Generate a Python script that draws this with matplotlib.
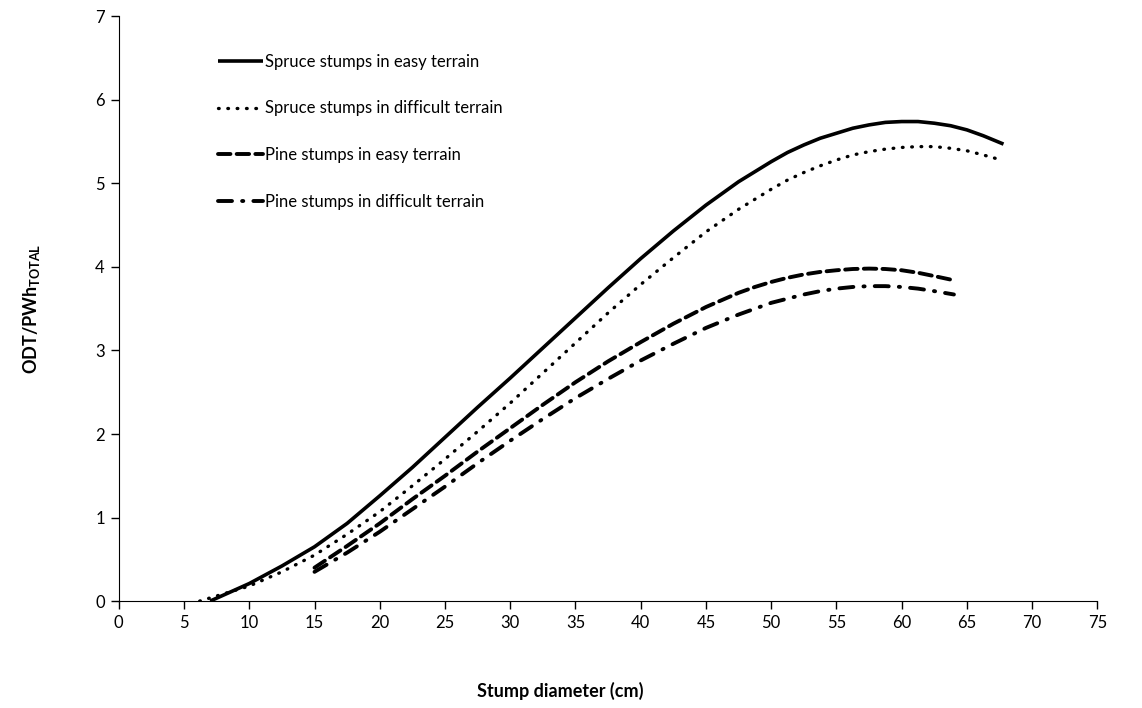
import numpy as np
import matplotlib.pyplot as plt

plt.rcParams['font.family'] = ['Lato', 'DejaVu Sans']
plt.rcParams['mathtext.fontset'] = 'custom'
plt.rcParams['mathtext.rm'] = 'Lato'
plt.rcParams['mathtext.bf'] = 'Lato:bold'

# stump diameter (cm) vs ODT/PWh_TOTAL
spruce_easy_x = [7, 10, 12.5, 15, 17.5, 20, 22.5, 25, 27.5, 30, 32.5, 35, 37.5, 40, 42.5,
                 45, 47.5, 50, 51.25, 52.5, 53.75, 55, 56.25, 57.5, 58.75, 60, 61.25,
                 62.5, 63.75, 65, 66.25, 67.8]
spruce_easy_y = [0, 0.21, 0.42, 0.65, 0.93, 1.26, 1.6, 1.96, 2.32, 2.67, 3.03, 3.39, 3.75,
                 4.1, 4.43, 4.74, 5.02, 5.26, 5.37, 5.46, 5.54, 5.6, 5.66, 5.7, 5.73, 5.74,
                 5.74, 5.72, 5.69, 5.64, 5.57, 5.47]

spruce_diff_x = [6.2, 10, 12.5, 15, 17.5, 20, 22.5, 25, 27.5, 30, 32.5, 35, 37.5, 40, 42.5,
                 45, 47.5, 50, 51.25, 52.5, 53.75, 55, 56.25, 57.5, 58.75, 60, 61.25,
                 62.5, 63.75, 65, 66.25, 67.4]
spruce_diff_y = [0, 0.18, 0.35, 0.55, 0.8, 1.07, 1.38, 1.7, 2.03, 2.37, 2.73, 3.09, 3.45,
                 3.79, 4.11, 4.42, 4.69, 4.93, 5.04, 5.13, 5.21, 5.28, 5.34, 5.38, 5.41,
                 5.43, 5.44, 5.44, 5.42, 5.39, 5.34, 5.29]

pine_easy_x = [15, 17.5, 20, 22.5, 25, 27.5, 30, 32.5, 35, 37.5, 40, 42.5, 45, 47.5, 48.75,
               50, 51.25, 52.5, 53.75, 55, 56.25, 57.5, 58.75, 60, 61.25, 62.5, 64]
pine_easy_y = [0.4, 0.66, 0.93, 1.22, 1.5, 1.79, 2.07, 2.35, 2.62, 2.87, 3.1, 3.32, 3.52,
               3.69, 3.76, 3.82, 3.87, 3.91, 3.94, 3.96, 3.975, 3.98, 3.975, 3.96, 3.93,
               3.89, 3.84]

pine_diff_x = [15, 17.5, 20, 22.5, 25, 27.5, 30, 32.5, 35, 37.5, 40, 42.5, 45, 47.5, 48.75,
               50, 51.25, 52.5, 53.75, 55, 56.25, 57.5, 58.75, 60, 61.25, 62.5, 64]
pine_diff_y = [0.35, 0.58, 0.83, 1.1, 1.37, 1.65, 1.92, 2.18, 2.43, 2.66, 2.88, 3.08, 3.27,
               3.43, 3.5, 3.57, 3.62, 3.67, 3.71, 3.74, 3.76, 3.77, 3.77, 3.76, 3.74,
               3.71, 3.67]

labels = ["Spruce stumps in easy terrain", "Spruce stumps in difficult terrain",
          "Pine stumps in easy terrain", "Pine stumps in difficult terrain"]

fig = plt.figure(figsize=(11.42, 7.08), dpi=100)
ax = fig.add_axes([0.104, 0.151, 0.857, 0.826])

ax.plot(spruce_easy_x, spruce_easy_y, color='black', lw=2.6, label=labels[0],
        solid_capstyle='butt', solid_joinstyle='round')
ax.plot(spruce_diff_x, spruce_diff_y, color='black', lw=2.4, linestyle=(0, (0.2, 2.6)),
        dash_capstyle='round', label=labels[1])
ax.plot(pine_easy_x, pine_easy_y, color='black', lw=2.8, linestyle=(0, (3.2, 1.6)),
        dash_capstyle='round', label=labels[2])
ax.plot(pine_diff_x, pine_diff_y, color='black', lw=2.8, linestyle=(0, (3.6, 2.6, 0.3, 2.6)),
        dash_capstyle='round', label=labels[3])

ax.set_xlim(0, 75)
ax.set_ylim(0, 7)
ax.set_xticks(np.arange(0, 76, 5))
ax.set_yticks(np.arange(0, 8, 1))
ax.spines['top'].set_visible(False)
ax.spines['right'].set_visible(False)
ax.tick_params(direction='out', length=6, width=1, labelsize=12, pad=4)

ax.set_xlabel("Stump diameter (cm)", fontsize=13, fontweight='bold')
ax.xaxis.set_label_coords(0.451, -0.138)
ax.set_ylabel(r"ODT/PWh$_{\mathregular{TOTAL}}$", fontsize=13, fontweight='bold')
ax.yaxis.set_label_coords(-0.078, 0.5)

leg = ax.legend(loc='upper left', bbox_to_anchor=(0.086, 0.962), frameon=False, fontsize=12,
                handlelength=2.7, handletextpad=0.1, labelspacing=1.85)

fig.savefig("out.png", dpi=100)
